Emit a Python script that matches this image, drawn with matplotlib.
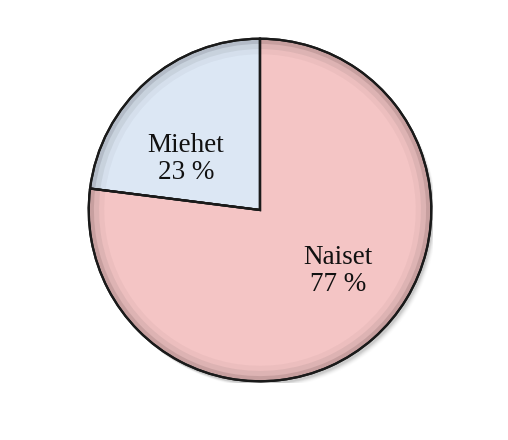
import matplotlib
matplotlib.use("Agg")
import matplotlib.pyplot as plt
from matplotlib.patches import Wedge
import numpy as np

labels = ["Miehet", "Naiset"]
values = [23, 77]
colors = ["#dce7f4", "#f4c5c5"]

W, H = 508, 440
fig = plt.figure(figsize=(W/100, H/100), dpi=100)
fig.patch.set_facecolor("white")
cx, cy, r = 260, 440-210, 173
ax = fig.add_axes([(cx-r)/W, (cy-r)/H, 2*r/W, 2*r/H])

# soft shadow
for i, a in enumerate(np.linspace(0.06, 0.01, 6)):
    ax.add_patch(plt.Circle((0.012 + i*0.004, -0.018 - i*0.004), 0.99, color="black", alpha=a, zorder=0, lw=0))

wedges, _ = ax.pie(values, colors=colors, startangle=90, counterclock=True, radius=0.99,
                   wedgeprops=dict(edgecolor="#1a1a1a", linewidth=1.6), frame=False)
ax.set_xlim(-1, 1); ax.set_ylim(-1, 1)
ax.set_aspect("equal"); ax.axis("off")

# bevel shading: darker rim inside each wedge
for w, c in zip(wedges, colors):
    t1, t2 = w.theta1, w.theta2
    for rr, al in [(0.96, 0.10), (0.93, 0.06), (0.90, 0.03)]:
        ax.add_patch(Wedge((0, 0), 0.99, t1, t2, width=0.99-rr, facecolor="black", alpha=al, lw=0, zorder=3))
    ax.add_patch(Wedge((0, 0), 0.99, t1, t2, fill=False, edgecolor="#1a1a1a", lw=1.6, zorder=4))

def px(x, y):
    return ((x - cx) / r, ((440 - y) - cy) / r)

font = dict(family=["Liberation Serif", "DejaVu Serif"], fontsize=19.5, color="#111111",
            ha="center", va="center", zorder=5, linespacing=1.1)
x, y = px(186, 159)
ax.text(x, y, "Miehet\n23 %", **font)
x, y = px(338, 271)
ax.text(x, y, "Naiset\n77 %", **font)

fig.savefig("out.png", dpi=100, facecolor="white")
